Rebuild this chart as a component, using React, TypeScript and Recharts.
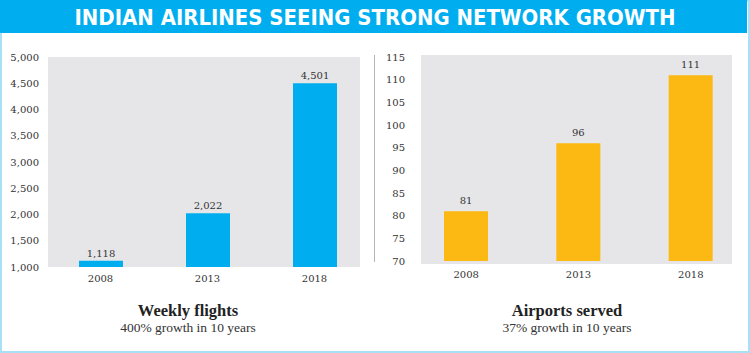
import React from "react";
import { Bar, BarChart, CartesianGrid, LabelList, XAxis, YAxis } from "recharts";

const years = ["2008", "2013", "2018"];
const weeklyFlights = [1118, 2022, 4501];
const airportsServed = [81, 96, 111];
const flightTicks = [1000, 1500, 2000, 2500, 3000, 3500, 4000, 4500, 5000];
const airportTicks = [70, 75, 80, 85, 90, 95, 100, 105, 110, 115];

const title = "INDIAN AIRLINES SEEING STRONG NETWORK GROWTH";
const leftTitle = "Weekly flights";
const leftSub = "400% growth in 10 years";
const rightTitle = "Airports served";
const rightSub = "37% growth in 10 years";

const BLUE = "#00AEEF";
const YELLOW = "#FDB913";
const GRAY = "#E6E6E8";
const INK = "#333333";
const SERIF = "'DejaVu Serif', serif";

const fmt = (v: number) => v.toLocaleString("en-US");
const tickStyle = { fill: INK, fontSize: 10, fontFamily: SERIF };

export default function App() {
  const flightData = years.map((y, i) => ({ year: y, value: weeklyFlights[i] }));
  const airportData = years.map((y, i) => ({ year: y, value: airportsServed[i] }));

  return (
    <div style={{ position: "absolute", left: 0, top: 0, width: 750, height: 353, background: "#fff", overflow: "hidden" }}>
      {/* plot backgrounds */}
      <div style={{ position: "absolute", left: 48, top: 57, width: 312, height: 210, background: GRAY }} />
      <div style={{ position: "absolute", left: 421, top: 55, width: 311, height: 209, background: GRAY }} />
      <div style={{ position: "absolute", left: 374, top: 55, width: 1, height: 207, background: "#b5b5b5" }} />

      <div style={{ position: "absolute", left: 0, top: 0 }}>
        <BarChart width={375} height={353} data={flightData} margin={{ top: 57, right: 7, bottom: 56, left: 0 }}>
          <XAxis dataKey="year" height={30} axisLine={false} tickLine={false} tickSize={0} tickMargin={8} tick={tickStyle} />
          <YAxis
            width={47}
            domain={[1000, 5000]}
            ticks={flightTicks}
            tickFormatter={fmt}
            axisLine={false}
            tickLine={false}
            tickSize={0}
            tickMargin={8}
            tick={tickStyle}
            allowDataOverflow
          />
          <Bar dataKey="value" fill={BLUE} barSize={44} isAnimationActive={false}>
            <LabelList dataKey="value" position="top" offset={4} formatter={(v: any) => fmt(Number(v))} style={{ fill: INK, fontSize: 10, fontFamily: SERIF }} />
          </Bar>
        </BarChart>
      </div>

      <div style={{ position: "absolute", left: 375, top: 0 }}>
        <BarChart width={375} height={353} data={airportData} margin={{ top: 57, right: 3, bottom: 62, left: 0 }}>
          <XAxis dataKey="year" height={30} axisLine={false} tickLine={false} tickSize={0} tickMargin={10} tick={tickStyle} />
          <YAxis
            width={35}
            domain={[70, 115]}
            ticks={airportTicks}
            axisLine={false}
            tickLine={false}
            tickSize={0}
            tickMargin={5}
            tick={tickStyle}
            allowDataOverflow
          />
          <Bar dataKey="value" fill={YELLOW} barSize={44} isAnimationActive={false}>
            <LabelList dataKey="value" position="top" offset={7} style={{ fill: INK, fontSize: 10, fontFamily: SERIF }} />
          </Bar>
        </BarChart>
      </div>

      <svg width={750} height={353} style={{ position: "absolute", left: 0, top: 0, pointerEvents: "none" }}>
        <rect x={0} y={0} width={750} height={353} fill="none" stroke="#A8E0F5" strokeWidth={4} />
        <rect x={0} y={0} width={747} height={33} fill={BLUE} />
        <text
          x={375}
          y={25}
          textAnchor="middle"
          fill="#fff"
          fontSize={21}
          fontWeight="bold"
          fontFamily="'DejaVu Sans Condensed', 'DejaVu Sans', sans-serif"
          textLength={601}
          lengthAdjust="spacingAndGlyphs"
        >
          {title}
        </text>
        <text x={188} y={316} textAnchor="middle" fill="#222" fontSize={16.5} fontWeight="bold" fontFamily="'Liberation Serif', serif">
          {leftTitle}
        </text>
        <text x={188} y={332} textAnchor="middle" fill={INK} fontSize={13.5} fontFamily="'Liberation Serif', serif">
          {leftSub}
        </text>
        <text x={567} y={316} textAnchor="middle" fill="#222" fontSize={16.5} fontWeight="bold" fontFamily="'Liberation Serif', serif">
          {rightTitle}
        </text>
        <text x={567} y={332} textAnchor="middle" fill={INK} fontSize={13.5} fontFamily="'Liberation Serif', serif">
          {rightSub}
        </text>
      </svg>
    </div>
  );
}
